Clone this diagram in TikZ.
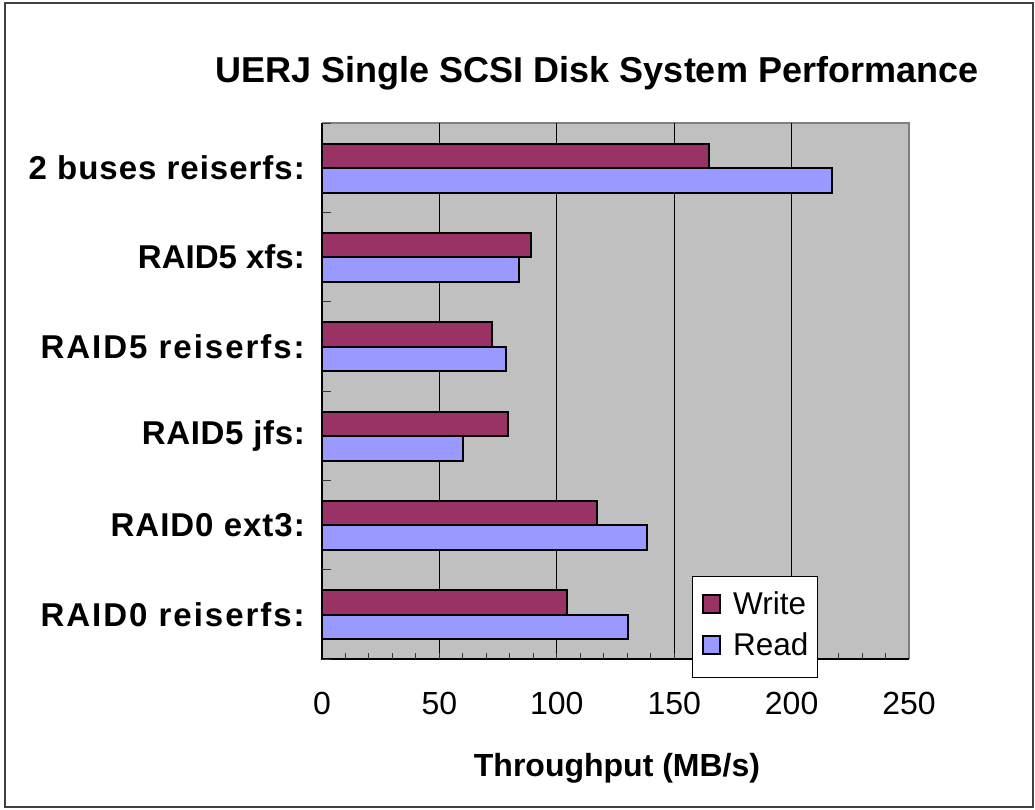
\documentclass[tikz,border=0pt]{standalone}
\usepackage{fontspec}
\setmainfont{Liberation Sans}
\definecolor{wcol}{HTML}{993366}
\definecolor{rcol}{HTML}{9999FF}
\definecolor{plotbg}{HTML}{C0C0C0}
\definecolor{framecol}{HTML}{404040}
\definecolor{plotedge}{HTML}{808080}
\begin{document}
\begin{tikzpicture}[x=1pt,y=-1pt,
  titlefont/.style={font=\fontsize{36}{42}\selectfont\bfseries},
  catlabel/.style={font=\fontsize{33}{39}\selectfont\bfseries, anchor=east, inner sep=0pt},
  ticklabel/.style={font=\fontsize{32}{38}\selectfont, anchor=base, inner sep=0pt},
  legendtext/.style={font=\fontsize{31.5}{36}\selectfont, anchor=base west, inner sep=0pt},
  writebar/.style={fill=wcol, draw=black, line width=2pt},
  readbar/.style={fill=rcol, draw=black, line width=2pt},
  gridline/.style={draw=black, line width=1pt},
  tickmark/.style={draw=black!80, line width=1pt},
]
\useasboundingbox (0,0) rectangle (1035,809);
% outer frame
\draw[framecol, line width=2pt] (5,3) rectangle (1033,807);
% plot area
\fill[plotbg] (322,123) rectangle (909,659);
\draw[plotedge, line width=1.5pt] (322,123) -- (909,123) -- (909,659);
% gridlines
\foreach \v in {50,100,150,200} {
  \pgfmathsetmacro\gx{322+2.348*\v}
  \draw[gridline] (\gx,123) -- (\gx,659);
}
% bars
\foreach \i/\w/\r in {0/165/217.4, 1/89/84, 2/72.5/78.4, 3/79.4/60, 4/117/138.3, 5/104.3/130.5} {
  \pgfmathsetmacro\yc{123+\i*89.333}
  \pgfmathsetmacro\wx{322+2.348*\w}
  \pgfmathsetmacro\rx{322+2.348*\r}
  \draw[writebar] (322,\yc+20.5) rectangle (\wx,\yc+45);
  \draw[readbar] (322,\yc+45) rectangle (\rx,\yc+69.5);
}
% axes
\draw[black, line width=1.5pt] (322,123) -- (322,659) -- (909,659);
% bottom minor ticks
\foreach \v in {10,20,...,240} {
  \pgfmathsetmacro\tx{322+2.348*\v}
  \draw[tickmark] (\tx,659) -- (\tx,653);
}
% left ticks
\foreach \i in {0,...,6} {
  \pgfmathsetmacro\ty{123+\i*89.333}
  \draw[tickmark] (322,\ty) -- (331,\ty);
}
% category labels
\foreach \i/\ls/\t in {0/3/{2 buses reiserfs:}, 1/0/{RAID5 xfs:}, 2/6/{RAID5 reiserfs:}, 3/2/{RAID5 jfs:}, 4/3/{RAID0 ext3:}, 5/6/{RAID0 reiserfs:}} {
  \pgfmathsetmacro\ly{123+\i*89.333+44.7}
  \node[catlabel] (cat\i) at (305,\ly) {\addfontfeatures{LetterSpace=\ls}\t};
}
% tick labels
\foreach \v in {0,50,100,150,200,250} {
  \pgfmathsetmacro\tx{322+2.348*\v}
  \node[ticklabel] (tick\v) at (\tx,714) {\v};
}
% axis title
\node[font=\fontsize{32}{38}\selectfont\bfseries, anchor=base, inner sep=0pt] (xtitle) at (617,776) {Throughput (MB/s)};
% chart title
\node[titlefont, anchor=base, inner sep=0pt] (title) at (597,82) {UERJ Single SCSI Disk System Performance};
% legend
\draw[fill=white, draw=black, line width=1pt] (692,576) rectangle (817,677);
\draw[fill=wcol, draw=black, line width=1.5pt] (703,595) rectangle (720,613);
\draw[fill=rcol, draw=black, line width=1.5pt] (703,636) rectangle (720,654);
\node[legendtext] (legw) at (733,614) {Write};
\node[legendtext] (legr) at (733,655) {Read};
\end{tikzpicture}
\end{document}
